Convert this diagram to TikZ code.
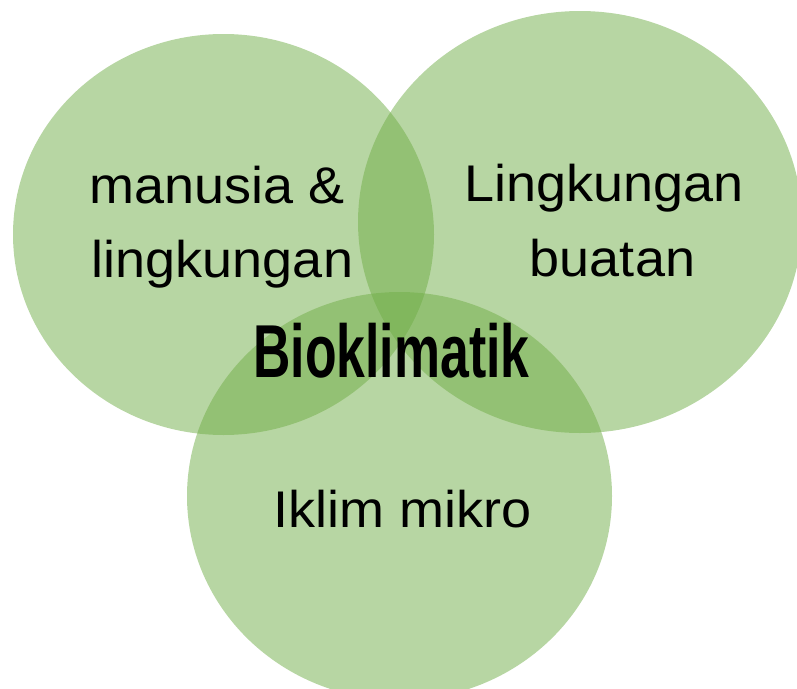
\documentclass[tikz,border=0pt]{standalone}
\usepackage{fontspec}
\setmainfont{Liberation Sans}
\definecolor{leaf}{HTML}{70AD47}
\begin{document}
\begin{tikzpicture}[x=1pt,y=-1pt,
  blob/.style={fill=leaf,fill opacity=0.5,draw=none},
  label/.style={anchor=base,inner sep=0pt,font=\fontsize{54}{60}\selectfont,text=black},
  title/.style={anchor=base,inner sep=0pt,font=\fontsize{75}{80}\selectfont\bfseries,text=black}]
\useasboundingbox (0,0) rectangle (797,688);
\clip (0,0) rectangle (797,688);
% three overlapping sets
\fill[blob] (223.5,234.5) ellipse [x radius=210.5, y radius=200.5];
\fill[blob] (580,222) ellipse [x radius=222, y radius=211];
\fill[blob] (399.5,496) ellipse [x radius=212.5, y radius=204];
% set labels
\node[label] (m1) at (217,203) {\scalebox{1}[0.955]{manusia \&}};
\node[label] (m2) at (222.5,277) {\scalebox{1}[0.955]{lingkungan}};
\node[label] (b1) at (604,201) {\scalebox{1}[0.955]{Lingkungan}};
\node[label] (b2) at (612.5,276) {\scalebox{1}[0.955]{buatan}};
\node[label] (ik) at (402.5,527) {\scalebox{1}[0.955]{Iklim mikro}};
% centre label
\node[title] (bio) at (391.5,377) {\scalebox{0.69}[1]{Bioklimatik}};
\end{tikzpicture}
\end{document}
